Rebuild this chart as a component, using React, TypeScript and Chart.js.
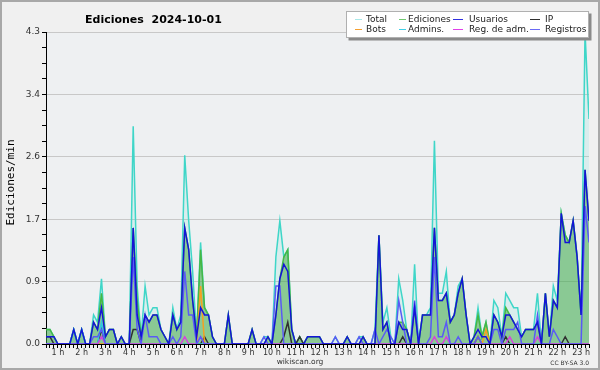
import React, { useEffect, useRef } from 'react';
import { Chart, registerables } from 'chart.js';
Chart.register(...registerables);

// 10-minute samples (index 0 = 00:00)
const total = [
  .2,.2,.1,0,0,0,0,.2,0,.2,0,0,
  .4,.3,.9,.1,.2,.2,0,.1,0,0,3.0,.8,
  .1,.8,.4,.5,.5,.2,.1,0,.5,.2,.4,2.6,
  1.7,1.0,.1,1.4,.5,.4,.1,0,0,0,.4,0,
  0,0,0,0,.2,0,0,.1,.1,0,1.2,1.7,
  1.2,1.3,.2,0,.1,0,.1,.1,.1,.1,0,0,
  0,.1,0,0,.1,0,0,.1,.1,0,0,.2,
  1.5,.3,.5,.1,0,.9,.6,.2,0,1.1,0,.4,
  .4,.5,2.8,.7,.7,1.0,.3,.4,.8,.9,.4,0,
  .1,.5,.1,.3,0,.6,.5,.1,.7,.6,.5,.5,
  .1,.2,.2,.2,.7,0,.7,.1,.8,.6,1.8,1.5,
  1.4,1.7,1.2,.4,4.3,3.1
];
const ediciones = [
  .2,.2,.1,0,0,0,0,.2,0,.2,0,0,
  .3,.2,.7,.1,.2,.2,0,.1,0,0,1.6,.6,
  .1,.4,.3,.4,.4,.2,.1,0,.4,.2,.3,1.6,
  1.3,.6,.1,1.3,.5,.4,.1,0,0,0,.4,0,
  0,0,0,0,.2,0,0,0,.1,0,.4,.9,
  1.2,1.3,.2,0,.1,0,.1,.1,.1,.1,0,0,
  0,0,0,0,.1,0,0,0,.1,0,0,0,
  1.5,.2,.3,0,0,.3,.3,.2,0,.5,0,.4,
  .4,.4,1.6,.6,.6,.7,.3,.4,.7,.9,.4,0,
  .1,.4,.1,.3,0,.4,.3,.1,.5,.4,.3,.2,
  .1,.2,.2,.2,.3,0,.7,.1,.6,.5,1.8,1.5,
  1.4,1.7,1.2,.4,2.4,1.7
];
const usuarios = [
  .1,.1,.1,0,0,0,0,.2,0,.2,0,0,
  .3,.2,.5,.1,.2,.2,0,.1,0,0,1.6,.4,
  .1,.4,.3,.4,.4,.2,.1,0,.4,.2,.3,1.6,
  1.3,.6,.1,.5,.4,.4,.1,0,0,0,.4,0,
  0,0,0,0,.2,0,0,0,.1,0,.4,.9,
  1.1,1.0,.2,0,0,0,.1,.1,.1,.1,0,0,
  0,0,0,0,.1,0,0,0,.1,0,0,0,
  1.5,.2,.3,0,0,.3,.2,.2,0,.5,0,.4,
  .4,.4,1.6,.6,.6,.7,.3,.4,.7,.9,.4,0,
  .1,.2,.1,.1,0,.4,.3,.1,.4,.4,.3,.2,
  .1,.2,.2,.2,.3,0,.7,.1,.6,.5,1.8,1.4,
  1.4,1.7,1.2,.4,2.4,1.7
];
const ip = [
  .1,.1,0,0,0,0,0,0,0,0,0,0,
  0,0,.2,0,0,0,0,0,0,0,.2,.2,
  0,0,0,0,0,0,0,0,0,0,0,0,
  0,0,0,0,.1,0,0,0,0,0,0,0,
  0,0,0,0,0,0,0,0,0,0,0,0,
  .1,.3,0,0,.1,0,0,0,0,0,0,0,
  0,0,0,0,0,0,0,0,0,0,0,0,
  0,0,0,0,0,0,.1,0,0,0,0,0,
  0,0,0,0,0,0,0,0,0,0,0,0,
  0,.1,0,0,0,0,0,0,.1,0,0,0,
  0,0,0,0,0,0,0,0,0,0,0,.1,
  0,0,0,0,0,0
];
const bots = [
  0,0,0,0,0,0,0,0,0,0,0,0,
  0,0,0,0,0,0,0,0,0,0,0,0,
  0,0,0,0,0,0,0,0,0,0,0,0,
  0,0,0,.8,0,0,0,0,0,0,0,0,
  0,0,0,0,0,0,0,0,0,0,0,0,
  0,0,0,0,0,0,0,0,0,0,0,0,
  0,0,0,0,0,0,0,0,0,0,0,0,
  0,0,0,0,0,0,0,0,0,0,0,0,
  0,0,0,0,0,0,0,0,0,0,0,0,
  0,.1,0,.2,0,0,0,0,0,0,0,0,
  0,0,0,0,0,0,0,0,0,0,0,0,
  0,0,0,0,0,0
];
const admins = [
  0,0,0,0,0,0,0,.2,0,.2,0,0,
  0,0,.3,0,0,0,0,0,0,0,0,0,
  0,0,0,0,0,0,0,0,0,0,0,0,
  0,0,0,0,0,0,0,0,0,0,0,0,
  0,0,0,0,0,0,0,0,0,0,0,0,
  0,0,0,0,0,0,0,0,0,0,0,0,
  0,0,0,0,0,0,0,0,0,0,0,0,
  0,0,0,0,0,0,0,0,0,0,0,0,
  0,0,0,0,0,0,0,0,0,0,0,0,
  0,0,0,0,0,0,0,0,0,0,0,0,
  0,0,0,0,0,0,0,0,0,0,0,0,
  0,0,0,0,0,0
];
const regAdm = [
  0,0,0,0,0,0,0,0,0,0,0,0,
  0,0,.1,0,0,0,0,0,0,0,0,0,
  0,0,0,0,0,0,0,0,0,0,0,.1,
  0,0,0,.1,0,0,0,0,0,0,0,0,
  0,0,0,0,0,0,0,0,0,0,0,0,
  0,0,0,0,0,0,0,0,0,0,0,0,
  0,0,0,0,0,0,0,0,0,0,0,0,
  0,0,0,0,0,0,0,0,0,0,0,0,
  0,0,.1,0,0,.1,0,0,0,0,0,0,
  0,0,0,0,0,0,0,0,0,.1,0,0,
  0,0,0,0,.1,0,0,0,0,0,0,0,
  0,0,0,0,0,0
];
const registros = [
  0,0,0,0,0,0,0,0,0,0,0,0,
  .1,.1,.2,0,0,0,0,0,0,0,1.2,.2,
  0,.4,.1,.1,.1,0,0,0,.1,0,.1,1.0,
  .4,.4,0,.1,0,0,0,0,0,0,0,0,
  0,0,0,0,0,0,0,.1,0,0,.8,.8,
  0,0,0,0,0,0,0,0,0,0,0,0,
  0,.1,0,0,0,0,0,.1,0,0,0,.2,
  0,.1,.2,.1,0,.6,.3,0,0,.6,0,0,
  0,.1,1.2,.1,.1,.3,0,0,.1,0,0,0,
  0,.1,0,0,0,.2,.2,0,.2,.2,.2,.3,
  0,0,0,0,.4,0,0,0,.2,.1,0,0,
  0,0,0,0,1.9,1.4
];
const yMax = 4.3;
const hourLabels = ['1 h','2 h','3 h','4 h','5 h','6 h','7 h','8 h','9 h','10 h','11 h','12 h','13 h','14 h','15 h','16 h','17 h','18 h','19 h','20 h','21 h','22 h','23 h'];

const C = {
  total: '#3fd6c8',
  totalFill: 'rgba(64,224,208,0.12)',
  ed: '#45b845',
  edFill: 'rgba(60,165,60,0.5)',
  usu: '#1414d8',
  ip: '#303030',
  bots: '#f5a020',
  adm: '#30c8e0',
  regAdm: '#d840e0',
  reg: '#5a5af5',
};

const legendItems = [
  { t: 'Total', c: '#a8e8e8', x0: 355, x1: 362, tx: 366, y: 19 },
  { t: 'Ediciones', c: '#70c870', x0: 399, x1: 406, tx: 408, y: 19 },
  { t: 'Usuarios', c: '#3030e0', x0: 453, x1: 463, tx: 469, y: 19 },
  { t: 'IP', c: '#303030', x0: 530, x1: 540, tx: 545, y: 19 },
  { t: 'Bots', c: '#f5a030', x0: 355, x1: 362, tx: 366, y: 29 },
  { t: 'Admins.', c: '#40d0e8', x0: 399, x1: 406, tx: 408, y: 29 },
  { t: 'Reg. de adm.', c: '#e040e8', x0: 453, x1: 463, tx: 469, y: 29 },
  { t: 'Registros', c: '#6a6af5', x0: 530, x1: 540, tx: 545, y: 29 },
];

const decor = {
  id: 'decor',
  beforeDraw(chart: any) {
    const { ctx, chartArea: a } = chart;
    ctx.save();
    ctx.fillStyle = '#f0f0f0';
    ctx.fillRect(0, 0, 600, 370);
    ctx.fillStyle = '#eef0f2';
    ctx.fillRect(a.left, a.top, a.right - a.left, a.bottom - a.top);
    ctx.strokeStyle = '#a8a8a8';
    ctx.lineWidth = 2;
    ctx.strokeRect(1, 1, 598, 368);
    ctx.restore();
  },
  afterDraw(chart: any) {
    const ctx = chart.ctx;
    ctx.save();
    ctx.fillStyle = '#000';
    ctx.textAlign = 'left';
    ctx.textBaseline = 'alphabetic';
    ctx.font = 'bold 11px "DejaVu Sans"';
    ctx.fillText('Ediciones  2024-10-01', 85, 23);

    // legend box
    ctx.fillStyle = '#8a8a8a';
    ctx.fillRect(348.5, 13.5, 243, 27);
    ctx.fillStyle = '#ffffff';
    ctx.fillRect(346, 11, 243, 27);
    ctx.strokeStyle = '#b0b0b0';
    ctx.lineWidth = 1;
    ctx.strokeRect(346.5, 11.5, 242, 26);
    ctx.font = '9px "DejaVu Sans"';
    ctx.textBaseline = 'middle';
    for (const it of legendItems) {
      ctx.strokeStyle = it.c;
      ctx.lineWidth = 1;
      ctx.beginPath();
      ctx.moveTo(it.x0, it.y + 0.5);
      ctx.lineTo(it.x1, it.y + 0.5);
      ctx.stroke();
      ctx.fillStyle = '#222';
      ctx.fillText(it.t, it.tx, it.y + 0.5);
    }

    // footer
    ctx.textBaseline = 'alphabetic';
    ctx.fillStyle = '#333';
    ctx.font = '7.5px "DejaVu Sans"';
    ctx.textAlign = 'center';
    ctx.fillText('wikiscan.org', 300, 364);
    ctx.font = '6px "DejaVu Sans"';
    ctx.textAlign = 'right';
    ctx.fillText('CC BY-SA 3.0', 589, 365);

    // y title
    ctx.translate(13.5, 182.5);
    ctx.rotate(-Math.PI / 2);
    ctx.textAlign = 'center';
    ctx.fillStyle = '#000';
    ctx.font = '11px "DejaVu Sans Mono"';
    ctx.fillText('Ediciones/min', 0, 0);
    ctx.restore();
  },
};

function series(label: string, values: number[], color: string, extra: any = {}) {
  return {
    label,
    data: values.map((v, i) => ({ x: i, y: v })),
    borderColor: color,
    backgroundColor: color,
    borderWidth: 1.5,
    pointRadius: 0,
    tension: 0,
    fill: false,
    ...extra,
  };
}

export default function App() {
  const ref = useRef<HTMLCanvasElement>(null);
  useEffect(() => {
    document.body.style.margin = '0';
    const yTicks = Array.from({ length: 21 }, (_, k) => (k * yMax) / 20);
    const chart = new Chart(ref.current as HTMLCanvasElement, {
      type: 'line',
      data: {
        datasets: [
          series('Usuarios', usuarios, C.usu),
          series('Registros', registros, C.reg),
          series('Reg. de adm.', regAdm, C.regAdm),
          series('Admins.', admins, C.adm),
          series('Bots', bots, C.bots),
          series('IP', ip, C.ip),
          series('Ediciones', ediciones, C.ed, { fill: 'origin', backgroundColor: C.edFill }),
          series('Total', total, C.total, { fill: 'origin', backgroundColor: C.totalFill }),
        ],
      },
      options: {
        responsive: false,
        animation: false,
        devicePixelRatio: 1,
        layout: { padding: { left: 0, top: 32, right: 11, bottom: 0 } },
        plugins: { legend: { display: false }, title: { display: false }, tooltip: { enabled: false } },
        scales: {
          x: {
            type: 'linear',
            min: 0,
            max: total.length - 1,
            afterFit: (s: any) => { s.height = 26; },
            afterBuildTicks: (s: any) => { s.ticks = total.map((_, i) => ({ value: i })); },
            ticks: {
              autoSkip: false,
              maxRotation: 0,
              minRotation: 0,
              padding: 0,
              color: '#333',
              font: { family: 'DejaVu Sans', size: 8 },
              callback: (v: any) => {
                const n = Number(v);
                return (n + 3) % 6 === 0 ? hourLabels[(n + 3) / 6 - 1] : '';
              },
            },
            grid: { drawOnChartArea: false, tickLength: 4, color: '#000', tickColor: '#000' },
            border: { display: true, color: '#000', width: 1 },
          },
          y: {
            min: 0,
            max: yMax,
            afterFit: (s: any) => { s.width = 46; },
            afterBuildTicks: (s: any) => { s.ticks = yTicks.map((v) => ({ value: v })); },
            ticks: {
              autoSkip: false,
              padding: 2,
              color: '#333',
              font: { family: 'DejaVu Sans', size: 9 },
              callback: (v: any, i: number) => (i % 4 === 0 ? Number(v).toFixed(1) : ''),
            },
            grid: {
              tickLength: 4,
              tickColor: '#000',
              color: (c: any) => (c.index % 4 === 0 && c.index > 0 ? '#c8c8c8' : 'rgba(0,0,0,0)'),
            },
            border: { display: true, color: '#000', width: 1 },
          },
        },
      },
      plugins: [decor],
    } as any);
    return () => chart.destroy();
  }, []);
  return (
    <div style={{ position: 'absolute', left: 0, top: 0, width: 600, height: 370 }}>
      <canvas ref={ref} width={600} height={370} style={{ width: 600, height: 370, display: 'block' }} />
    </div>
  );
}
